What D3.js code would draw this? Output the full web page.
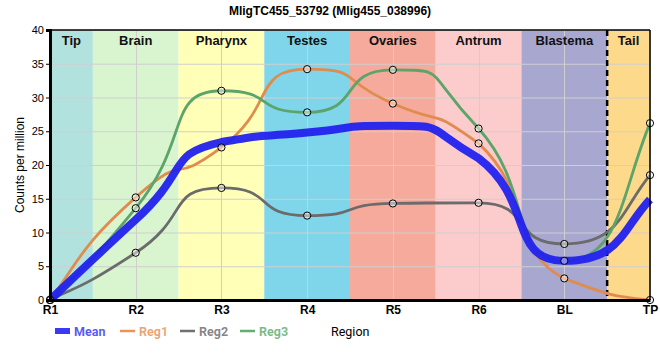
<!DOCTYPE html>
<html><head><meta charset="utf-8">
<script src="https://cdn.jsdelivr.net/npm/d3@7/dist/d3.min.js"></script>
<style>body{margin:0;background:#fff}svg{display:block}</style>
</head><body><svg id="c" width="660" height="360"></svg>
<script>
const categories = ["R1","R2","R3","R4","R5","R6","BL","TP"];
const meanVals = [0, 11.9, 23.4, 24.8, 25.8, 21.0, 5.8, 14.9];
const reg1Vals = [0, 15.2, 22.6, 34.2, 29.1, 23.2, 3.2, 0];
const reg2Vals = [0, 7.0, 16.6, 12.5, 14.3, 14.4, 8.3, 18.5];
const reg3Vals = [0, 13.6, 31.0, 27.8, 34.1, 25.4, 5.8, 26.2];
const regionNames = ["Tip","Brain","Pharynx","Testes","Ovaries","Antrum","Blastema","Tail"];
const regionStart = [0, 0.5, 1.5, 2.5, 3.5, 4.5, 5.5, 6.5];
const regionEnd   = [0.5, 1.5, 2.5, 3.5, 4.5, 5.5, 6.5, 7];
const regionColors = ["#b2e2de","#d8f5d0","#ffffb8","#7fd5ea","#f5aa9c","#fccbcc","#a8a7cf","#fdd98b"];
const yTicks = [0,5,10,15,20,25,30,35,40];

// Custom smooth curve: monotone tangents with long Bezier handles (short at the ends)
function LongHandle(context) { this._context = context; this._a = 0.65; this._aEnd = 1/3; }
LongHandle.prototype = {
  areaStart() { this._line = 0; }, areaEnd() { this._line = NaN; },
  lineStart() { this._xs = []; this._ys = []; },
  point(x, y) { this._xs.push(+x); this._ys.push(+y); },
  lineEnd() {
    const xs = this._xs, ys = this._ys, n = xs.length, c = this._context;
    if (!n) return;
    const s = [];
    for (let i = 0; i < n - 1; i++) s.push((ys[i+1] - ys[i]) / (xs[i+1] - xs[i]));
    const m = new Array(n).fill(0);
    for (let i = 1; i < n - 1; i++) {
      const h0 = xs[i] - xs[i-1], h1 = xs[i+1] - xs[i];
      const p = (s[i-1] * h1 + s[i] * h0) / (h0 + h1);
      m[i] = (Math.sign(s[i-1]) + Math.sign(s[i])) * Math.min(Math.abs(s[i-1]), Math.abs(s[i]), 0.5 * Math.abs(p)) || 0;
    }
    if (n > 1) {
      m[0] = (3 * s[0] - m[1]) / 2;
      m[n-1] = (3 * s[n-2] - m[n-2]) / 2;
    }
    const hl = i => (i === 0 || i === n - 1) ? this._aEnd : this._a;
    c.moveTo(xs[0], ys[0]);
    for (let i = 0; i < n - 1; i++) {
      const h = xs[i+1] - xs[i];
      const a0 = hl(i), a1 = hl(i + 1);
      const lo = Math.min(ys[i], ys[i+1]), hi = Math.max(ys[i], ys[i+1]);
      const c1y = Math.max(lo, Math.min(hi, ys[i] + m[i] * a0 * h));
      const c2y = Math.max(lo, Math.min(hi, ys[i+1] - m[i+1] * a1 * h));
      c.bezierCurveTo(xs[i] + a0 * h, c1y, xs[i+1] - a1 * h, c2y, xs[i+1], ys[i+1]);
    }
  }
};
const curveLongHandle = context => new LongHandle(context);

const svg = d3.select("#c");
const L = 50, R = 650, T = 30, B = 300;
const xi = d3.scaleLinear().domain([0, categories.length - 1]).range([L, R]);
const y = d3.scaleLinear().domain([0, 40]).range([B, T]);

// bands
svg.append("g").selectAll("rect").data(regionNames).join("rect")
  .attr("x", (d,i) => xi(regionStart[i])).attr("y", T)
  .attr("width", (d,i) => xi(regionEnd[i]) - xi(regionStart[i])).attr("height", B - T)
  .attr("fill", (d,i) => regionColors[i]);

// grid
const g = svg.append("g").attr("stroke", "#cfcfcf").attr("stroke-width", 1);
g.selectAll("line.h").data(yTicks).join("line").attr("class","h")
  .attr("x1", L).attr("x2", R).attr("y1", d => y(d) + 0.5).attr("y2", d => y(d) + 0.5);
g.selectAll("line.v").data(categories).join("line").attr("class","v")
  .attr("y1", T).attr("y2", B).attr("x1", (d,i) => Math.round(xi(i)) + 0.5).attr("x2", (d,i) => Math.round(xi(i)) + 0.5);

// band labels
svg.append("g").selectAll("text").data(regionNames).join("text")
  .attr("x", (d,i) => (xi(regionStart[i]) + xi(regionEnd[i])) / 2).attr("y", 45)
  .attr("text-anchor", "middle").attr("font-family", "Liberation Sans, Arial, sans-serif")
  .attr("font-weight", "bold").attr("font-size", 13).attr("fill", "#111").text(d => d);

// dashed separator
svg.append("line").attr("x1", xi(6.5)).attr("x2", xi(6.5)).attr("y1", T).attr("y2", B)
  .attr("stroke", "#000").attr("stroke-width", 2.5).attr("stroke-dasharray", "6,4");

// lines
const line = d3.line().x((d,i) => xi(i)).y(d => y(d)).curve(curveLongHandle);
const series = [
  {name:"Reg2", vals: reg2Vals, color:"#6b6b6b", w:2.8},
  {name:"Reg1", vals: reg1Vals, color:"#e08c4f", w:2.8},
  {name:"Reg3", vals: reg3Vals, color:"#5ba56a", w:2.8},
];
series.forEach(s => {
  svg.append("path").datum(s.vals).attr("d", line).attr("fill", "none")
    .attr("stroke", s.color).attr("stroke-width", s.w);
});
svg.append("path").datum(meanVals).attr("d", line).attr("fill", "none")
  .attr("stroke", "#2222ee").attr("stroke-opacity", 0.95).attr("stroke-width", 8);

// markers
series.forEach(s => {
  svg.append("g").selectAll("circle").data(s.vals).join("circle")
    .attr("cx", (d,i) => xi(i)).attr("cy", d => y(d)).attr("r", 3.6)
    .attr("fill", "#fff").attr("fill-opacity", 0.45)
    .attr("stroke", "#000").attr("stroke-width", 1);
});

// frame
svg.append("line").attr("x1", L).attr("x2", R).attr("y1", T).attr("y2", T).attr("stroke","#000").attr("stroke-width",1.5);
svg.append("line").attr("x1", R).attr("x2", R).attr("y1", T).attr("y2", B).attr("stroke","#000").attr("stroke-width",1.5);

// y axis
const yAxis = svg.append("g").attr("transform", `translate(${L},0)`)
  .call(d3.axisLeft(y).tickValues(yTicks).tickSize(4).tickPadding(2));
yAxis.select(".domain").attr("stroke-width", 3);
yAxis.selectAll("text").attr("font-family","Liberation Sans, Arial, sans-serif").attr("font-size", 11).attr("fill","#000");

// x axis
const xAxis = svg.append("g").attr("transform", `translate(0,${B})`)
  .call(d3.axisBottom(xi).tickValues(d3.range(categories.length)).tickFormat(i => categories[i]).tickSize(0).tickPadding(5));
xAxis.select(".domain").attr("stroke-width", 3);
xAxis.selectAll("text").attr("font-family","Liberation Sans, Arial, sans-serif").attr("font-size", 12).attr("font-weight","bold").attr("fill","#000");

// title
svg.append("text").attr("x", 330).attr("y", 15).attr("text-anchor","middle")
  .attr("font-family","Liberation Sans, Arial, sans-serif").attr("font-weight","bold").attr("font-size", 12)
  .text("MligTC455_53792 (Mlig455_038996)");

// y label
svg.append("text").attr("transform", "translate(24,165) rotate(-90)").attr("text-anchor","middle")
  .attr("font-family","Liberation Sans, Arial, sans-serif").attr("font-size", 12).text("Counts per million");

// legend
const legend = [
  {name:"Mean", color:"#3a3af5", h:6, x:55},
  {name:"Reg1", color:"#e8955a", h:2.5, x:120},
  {name:"Reg2", color:"#707070", h:2.5, x:180},
  {name:"Reg3", color:"#64ad73", h:2.5, x:240},
];
const lg = svg.append("g");
legend.forEach(l => {
  lg.append("rect").attr("x", l.x).attr("y", 331 - l.h/2).attr("width", 15).attr("height", l.h).attr("fill", l.color);
  lg.append("text").attr("x", l.x + 19).attr("y", 336).attr("font-family","Roboto, sans-serif")
    .attr("font-weight","bold").attr("font-size", 12.5).attr("fill", l.color).attr("fill-opacity", 0.85).text(l.name);
});
lg.append("text").attr("x", 331).attr("y", 336).attr("font-family","Roboto, sans-serif")
  .attr("font-size", 12.5).attr("fill","#000").text("Region");
</script></body></html>
